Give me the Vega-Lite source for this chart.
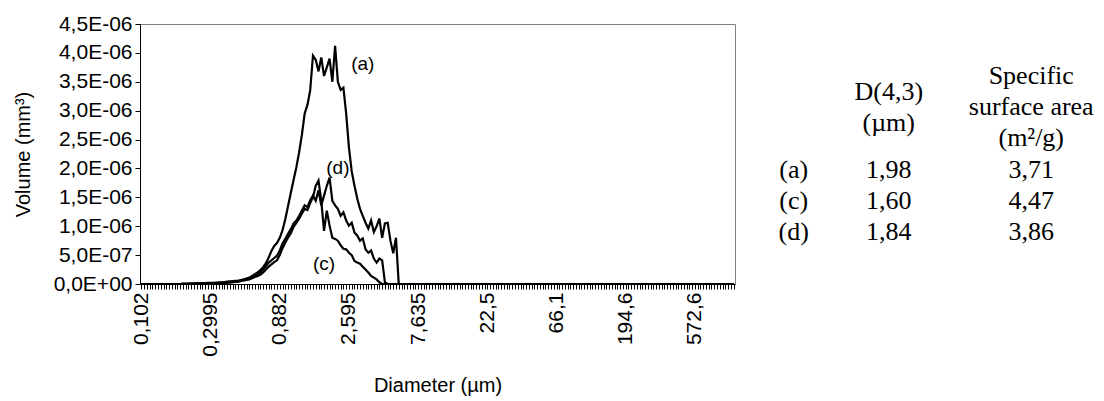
{
  "$schema": "https://vega.github.io/schema/vega-lite/v6.json",
  "background": "white",
  "padding": {"left": 12, "top": 12, "right": 0, "bottom": 0},
  "config": {
    "font": "Liberation Sans",
    "view": {"stroke": null},
    "concat": {"spacing": 25},
    "axis": {"grid": false, "domainColor": "black", "tickColor": "black", "labelColor": "black", "titleColor": "black", "labelFont": "Liberation Sans", "titleFont": "Liberation Sans", "labelFontSize": 21, "titleFontSize": 20, "titleFontWeight": "normal", "tickSize": 5, "domainWidth": 1, "tickWidth": 1, "labelOverlap": false}
  },
  "datasets": {
    "curves": [
      {"sample":"a","idx":0,"volume":0},{"sample":"a","idx":14,"volume":0},{"sample":"a","idx":15,"volume":3e-9},{"sample":"a","idx":16,"volume":4e-9},{"sample":"a","idx":17,"volume":5e-9},{"sample":"a","idx":18,"volume":6e-9},{"sample":"a","idx":19,"volume":8e-9},{"sample":"a","idx":20,"volume":1e-8},{"sample":"a","idx":21,"volume":1.2e-8},{"sample":"a","idx":22,"volume":1.4e-8},{"sample":"a","idx":23,"volume":1.6e-8},{"sample":"a","idx":24,"volume":1.8e-8},{"sample":"a","idx":25,"volume":2e-8},{"sample":"a","idx":26,"volume":2.2e-8},{"sample":"a","idx":27,"volume":2.5e-8},{"sample":"a","idx":28,"volume":2.8e-8},{"sample":"a","idx":29,"volume":3e-8},{"sample":"a","idx":30,"volume":3.5e-8},{"sample":"a","idx":31,"volume":4e-8},{"sample":"a","idx":32,"volume":4.5e-8},{"sample":"a","idx":33,"volume":5e-8},{"sample":"a","idx":34,"volume":5.5e-8},{"sample":"a","idx":35,"volume":6e-8},{"sample":"a","idx":36,"volume":7e-8},{"sample":"a","idx":37,"volume":8e-8},{"sample":"a","idx":38,"volume":9.5e-8},{"sample":"a","idx":39,"volume":1.1e-7},{"sample":"a","idx":40,"volume":1.4e-7},{"sample":"a","idx":41,"volume":1.7e-7},{"sample":"a","idx":42,"volume":2e-7},{"sample":"a","idx":43,"volume":2.4e-7},{"sample":"a","idx":44,"volume":2.9e-7},{"sample":"a","idx":45,"volume":3.6e-7},{"sample":"a","idx":46,"volume":4.6e-7},{"sample":"a","idx":47,"volume":5.7e-7},{"sample":"a","idx":48,"volume":6.6e-7},{"sample":"a","idx":49,"volume":7.1e-7},{"sample":"a","idx":50,"volume":8e-7},{"sample":"a","idx":51,"volume":9.3e-7},{"sample":"a","idx":52,"volume":1.12e-6},{"sample":"a","idx":53,"volume":1.35e-6},{"sample":"a","idx":54,"volume":1.58e-6},{"sample":"a","idx":55,"volume":1.8e-6},{"sample":"a","idx":56,"volume":2.02e-6},{"sample":"a","idx":57,"volume":2.28e-6},{"sample":"a","idx":58,"volume":2.58e-6},{"sample":"a","idx":59,"volume":2.95e-6},{"sample":"a","idx":60,"volume":3.1e-6},{"sample":"a","idx":61,"volume":3.35e-6},{"sample":"a","idx":62,"volume":3.95e-6},{"sample":"a","idx":63,"volume":3.88e-6},{"sample":"a","idx":64,"volume":3.68e-6},{"sample":"a","idx":65,"volume":3.92e-6},{"sample":"a","idx":66,"volume":3.6e-6},{"sample":"a","idx":67,"volume":3.75e-6},{"sample":"a","idx":68,"volume":3.9e-6},{"sample":"a","idx":69,"volume":3.5e-6},{"sample":"a","idx":70,"volume":4.12e-6},{"sample":"a","idx":71,"volume":3.5e-6},{"sample":"a","idx":72,"volume":3.36e-6},{"sample":"a","idx":73,"volume":3.4e-6},{"sample":"a","idx":74,"volume":2.95e-6},{"sample":"a","idx":75,"volume":2.36e-6},{"sample":"a","idx":76,"volume":1.95e-6},{"sample":"a","idx":77,"volume":1.7e-6},{"sample":"a","idx":78,"volume":1.48e-6},{"sample":"a","idx":79,"volume":1.3e-6},{"sample":"a","idx":80,"volume":1.18e-6},{"sample":"a","idx":81,"volume":1.06e-6},{"sample":"a","idx":82,"volume":9.6e-7},{"sample":"a","idx":83,"volume":1.1e-6},{"sample":"a","idx":84,"volume":9e-7},{"sample":"a","idx":85,"volume":1e-6},{"sample":"a","idx":86,"volume":1.13e-6},{"sample":"a","idx":87,"volume":8e-7},{"sample":"a","idx":88,"volume":1.05e-6},{"sample":"a","idx":89,"volume":1.06e-6},{"sample":"a","idx":90,"volume":7.5e-7},{"sample":"a","idx":91,"volume":5.3e-7},{"sample":"a","idx":92,"volume":8e-7},{"sample":"a","idx":93,"volume":0},{"sample":"a","idx":214,"volume":0},
      {"sample":"d","idx":0,"volume":0},{"sample":"d","idx":14,"volume":0},{"sample":"d","idx":15,"volume":2e-9},{"sample":"d","idx":17,"volume":3e-9},{"sample":"d","idx":20,"volume":5e-9},{"sample":"d","idx":23,"volume":8e-9},{"sample":"d","idx":25,"volume":1e-8},{"sample":"d","idx":28,"volume":1.5e-8},{"sample":"d","idx":30,"volume":2e-8},{"sample":"d","idx":33,"volume":3e-8},{"sample":"d","idx":35,"volume":4.5e-8},{"sample":"d","idx":37,"volume":7e-8},{"sample":"d","idx":38,"volume":8.5e-8},{"sample":"d","idx":39,"volume":1e-7},{"sample":"d","idx":40,"volume":1.2e-7},{"sample":"d","idx":41,"volume":1.4e-7},{"sample":"d","idx":42,"volume":1.7e-7},{"sample":"d","idx":43,"volume":2e-7},{"sample":"d","idx":44,"volume":2.5e-7},{"sample":"d","idx":45,"volume":3.1e-7},{"sample":"d","idx":46,"volume":3.7e-7},{"sample":"d","idx":47,"volume":4.1e-7},{"sample":"d","idx":48,"volume":4.5e-7},{"sample":"d","idx":49,"volume":4.9e-7},{"sample":"d","idx":50,"volume":5.8e-7},{"sample":"d","idx":51,"volume":7e-7},{"sample":"d","idx":52,"volume":7.8e-7},{"sample":"d","idx":53,"volume":8.7e-7},{"sample":"d","idx":54,"volume":9.5e-7},{"sample":"d","idx":55,"volume":1.05e-6},{"sample":"d","idx":56,"volume":1.1e-6},{"sample":"d","idx":57,"volume":1.18e-6},{"sample":"d","idx":58,"volume":1.27e-6},{"sample":"d","idx":59,"volume":1.36e-6},{"sample":"d","idx":60,"volume":1.33e-6},{"sample":"d","idx":61,"volume":1.45e-6},{"sample":"d","idx":62,"volume":1.53e-6},{"sample":"d","idx":63,"volume":1.44e-6},{"sample":"d","idx":64,"volume":1.62e-6},{"sample":"d","idx":65,"volume":1.36e-6},{"sample":"d","idx":66,"volume":1.53e-6},{"sample":"d","idx":67,"volume":1.7e-6},{"sample":"d","idx":68,"volume":1.84e-6},{"sample":"d","idx":69,"volume":1.44e-6},{"sample":"d","idx":70,"volume":1.36e-6},{"sample":"d","idx":71,"volume":1.3e-6},{"sample":"d","idx":72,"volume":1.18e-6},{"sample":"d","idx":73,"volume":1.24e-6},{"sample":"d","idx":74,"volume":1.1e-6},{"sample":"d","idx":75,"volume":1.01e-6},{"sample":"d","idx":76,"volume":1.06e-6},{"sample":"d","idx":77,"volume":8.9e-7},{"sample":"d","idx":78,"volume":8.4e-7},{"sample":"d","idx":79,"volume":7.5e-7},{"sample":"d","idx":80,"volume":7.9e-7},{"sample":"d","idx":81,"volume":6e-7},{"sample":"d","idx":82,"volume":5.4e-7},{"sample":"d","idx":83,"volume":5.8e-7},{"sample":"d","idx":84,"volume":4.4e-7},{"sample":"d","idx":85,"volume":3.7e-7},{"sample":"d","idx":86,"volume":4.4e-7},{"sample":"d","idx":87,"volume":4.1e-7},{"sample":"d","idx":88,"volume":3e-8},{"sample":"d","idx":89,"volume":0},{"sample":"d","idx":214,"volume":0},
      {"sample":"c","idx":0,"volume":0},{"sample":"c","idx":14,"volume":0},{"sample":"c","idx":15,"volume":2e-9},{"sample":"c","idx":17,"volume":3e-9},{"sample":"c","idx":20,"volume":5e-9},{"sample":"c","idx":23,"volume":7e-9},{"sample":"c","idx":25,"volume":1e-8},{"sample":"c","idx":28,"volume":1.4e-8},{"sample":"c","idx":30,"volume":2e-8},{"sample":"c","idx":33,"volume":3e-8},{"sample":"c","idx":35,"volume":4e-8},{"sample":"c","idx":37,"volume":6e-8},{"sample":"c","idx":38,"volume":7e-8},{"sample":"c","idx":39,"volume":8e-8},{"sample":"c","idx":40,"volume":1e-7},{"sample":"c","idx":41,"volume":1.2e-7},{"sample":"c","idx":42,"volume":1.4e-7},{"sample":"c","idx":43,"volume":1.6e-7},{"sample":"c","idx":44,"volume":2e-7},{"sample":"c","idx":45,"volume":2.5e-7},{"sample":"c","idx":46,"volume":3e-7},{"sample":"c","idx":47,"volume":3.4e-7},{"sample":"c","idx":48,"volume":3.8e-7},{"sample":"c","idx":49,"volume":4.1e-7},{"sample":"c","idx":50,"volume":5e-7},{"sample":"c","idx":51,"volume":6.2e-7},{"sample":"c","idx":52,"volume":7.2e-7},{"sample":"c","idx":53,"volume":8e-7},{"sample":"c","idx":54,"volume":8.8e-7},{"sample":"c","idx":55,"volume":9.9e-7},{"sample":"c","idx":56,"volume":1.06e-6},{"sample":"c","idx":57,"volume":1.13e-6},{"sample":"c","idx":58,"volume":1.22e-6},{"sample":"c","idx":59,"volume":1.3e-6},{"sample":"c","idx":60,"volume":1.28e-6},{"sample":"c","idx":61,"volume":1.4e-6},{"sample":"c","idx":62,"volume":1.5e-6},{"sample":"c","idx":63,"volume":1.7e-6},{"sample":"c","idx":64,"volume":1.79e-6},{"sample":"c","idx":65,"volume":1.44e-6},{"sample":"c","idx":66,"volume":9.2e-7},{"sample":"c","idx":67,"volume":1.27e-6},{"sample":"c","idx":68,"volume":1.01e-6},{"sample":"c","idx":69,"volume":8e-7},{"sample":"c","idx":70,"volume":7.8e-7},{"sample":"c","idx":71,"volume":7.5e-7},{"sample":"c","idx":72,"volume":6.7e-7},{"sample":"c","idx":73,"volume":6.1e-7},{"sample":"c","idx":74,"volume":6e-7},{"sample":"c","idx":75,"volume":5.4e-7},{"sample":"c","idx":76,"volume":5e-7},{"sample":"c","idx":77,"volume":4e-7},{"sample":"c","idx":78,"volume":3.7e-7},{"sample":"c","idx":79,"volume":3.5e-7},{"sample":"c","idx":80,"volume":3e-7},{"sample":"c","idx":81,"volume":2.5e-7},{"sample":"c","idx":82,"volume":2e-7},{"sample":"c","idx":83,"volume":1.4e-7},{"sample":"c","idx":84,"volume":1.1e-7},{"sample":"c","idx":85,"volume":8e-8},{"sample":"c","idx":86,"volume":3e-8},{"sample":"c","idx":87,"volume":0},{"sample":"c","idx":214,"volume":0}
    ],
    "curveLabels": [
      {"label":"(a)","idx":80,"volume":3.8e-6},
      {"label":"(d)","idx":71,"volume":2.0e-6},
      {"label":"(c)","idx":66,"volume":3.5e-7}
    ],
    "table": [
      {"row":"L1","col":"ssa","text":"Specific"},
      {"row":"L2","col":"d43","text":"D(4,3)"},
      {"row":"L3","col":"ssa","text":"surface area"},
      {"row":"L4","col":"d43","text":"(µm)"},
      {"row":"L5","col":"ssa","text":"(m²/g)"},
      {"row":"L7","col":"label","text":"(a)"},
      {"row":"L7","col":"d43","text":"1,98"},
      {"row":"L7","col":"ssa","text":"3,71"},
      {"row":"L9","col":"label","text":"(c)"},
      {"row":"L9","col":"d43","text":"1,60"},
      {"row":"L9","col":"ssa","text":"4,47"},
      {"row":"L11","col":"label","text":"(d)"},
      {"row":"L11","col":"d43","text":"1,84"},
      {"row":"L11","col":"ssa","text":"3,86"}
    ]
  },
  "hconcat": [
    {
      "width": 595,
      "height": 260,
      "view": {"stroke": "#808080", "strokeWidth": 1},
      "encoding": {
        "x": {"field": "idx", "type": "quantitative",
              "scale": {"domain": [-0.5, 214.5], "nice": false, "zero": false},
              "axis": {"title": "Diameter (µm)", "tickCount": 215, "labelAngle": 270, "labelFlush": false, "labelOverlap": false, "labelPadding": 3, "titlePadding": 19,
                       "labelExpr": "(datum.value % 25 === 0 && datum.value <= 200) ? ['0,102','0,2995','0,882','2,595','7,635','22,5','66,1','194,6','572,6'][datum.value / 25] : ''"}},
        "y": {"field": "volume", "type": "quantitative",
              "scale": {"domain": [0, 4.5e-6], "nice": false, "zero": true},
              "axis": {"title": "Volume (mm³)", "tickCount": 20, "values": [0, 5e-7, 1e-6, 1.5e-6, 2e-6, 2.5e-6, 3e-6, 3.5e-6, 4e-6, 4.5e-6], "labelOverlap": false, "labelFlush": false, "labelPadding": 3, "titlePadding": 20,
                       "labelExpr": "['0,0E+00','5,0E-07','1,0E-06','1,5E-06','2,0E-06','2,5E-06','3,0E-06','3,5E-06','4,0E-06','4,5E-06'][round(datum.value / 5e-7)]"}}
      },
      "layer": [
        {
          "data": {"name": "curves"},
          "mark": {"type": "line", "color": "black", "strokeWidth": 2.2, "clip": true},
          "encoding": {"detail": {"field": "sample"}}
        },
        {
          "data": {"name": "curveLabels"},
          "mark": {"type": "text", "font": "Liberation Sans", "fontSize": 19, "color": "black", "align": "center", "baseline": "middle"},
          "encoding": {"text": {"field": "label"}}
        }
      ]
    },
    {
      "width": 285,
      "height": 260,
      "view": {"stroke": null},
      "data": {"name": "table"},
      "mark": {"type": "text", "font": "Liberation Serif", "fontSize": 26, "color": "black", "align": "center", "baseline": "middle"},
      "encoding": {
        "x": {"field": "col", "type": "nominal", "scale": {"type": "band", "domain": ["label", "g1", "d43", "g2", "g3", "ssa"], "paddingInner": 0, "paddingOuter": 0}, "axis": null},
        "y": {"field": "row", "type": "nominal", "scale": {"type": "band", "domain": ["s1", "s2", "L1", "L2", "L3", "L4", "L5", "L6", "L7", "L8", "L9", "L10", "L11", "e1", "e2"], "paddingInner": 0, "paddingOuter": 0.855}, "axis": null},
        "text": {"field": "text"}
      }
    }
  ]
}
